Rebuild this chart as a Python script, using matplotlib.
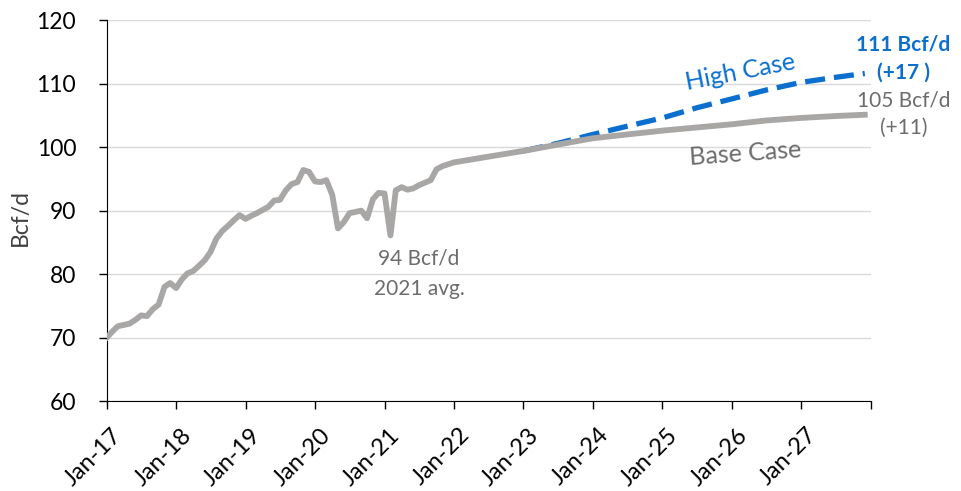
import numpy as np
import pandas as pd
import matplotlib
matplotlib.use('Agg')
import matplotlib.pyplot as plt
import matplotlib.transforms as mtrans

plt.rcParams['font.family'] = ['Lato', 'DejaVu Sans']

# Monthly history, Jan-17 .. Jan-22 (Bcf/d)
hist = [70.0, 71.0, 71.8, 72.0, 72.2, 72.8, 73.5, 73.4, 74.5, 75.2, 78.0, 78.6,
        77.8, 79.2, 80.1, 80.5, 81.3, 82.2, 83.5, 85.6, 86.8, 87.6, 88.5, 89.3,
        88.7, 89.2, 89.6, 90.1, 90.6, 91.6, 91.7, 93.2, 94.2, 94.5, 96.4, 96.1,
        94.6, 94.5, 94.8, 92.5, 87.2, 88.2, 89.6, 89.8, 90.0, 88.8, 91.8, 92.8,
        92.7, 86.1, 93.2, 93.7, 93.3, 93.5, 94.0, 94.4, 94.8, 96.5, 97.0, 97.3,
        97.6]
hist_dates = pd.date_range('2017-01-01', periods=len(hist), freq='MS')

# Forecast, semiannual
fc_dates = pd.to_datetime(['2022-07-01', '2023-01-01', '2023-07-01', '2024-01-01',
                           '2024-07-01', '2025-01-01', '2025-07-01', '2026-01-01',
                           '2026-07-01', '2027-01-01', '2027-07-01', '2027-12-01'])
base_fc = [98.5, 99.4, 100.4, 101.4, 102.0, 102.6, 103.1, 103.6, 104.2, 104.6, 104.9, 105.1]
high_fc = [None, 99.4, 100.6, 102.0, 103.3, 104.6, 106.2, 107.6, 109.0, 110.2, 111.0, 111.6]

base_dates = hist_dates.append(fc_dates)
base_vals = hist + base_fc
high_dates = fc_dates[1:]
high_vals = high_fc[1:]

tick_years = list(range(2017, 2029))
tick_labels = ['Jan-%02d' % (y % 100) for y in tick_years[:-1]] + ['']

gray = '#A9A6A6'
blue = '#0A6FCF'
text_gray = '#6E6B6B'

fig = plt.figure(figsize=(9.61, 4.91), dpi=100)
ax = fig.add_axes([0.111, 0.183, 0.795, 0.776])

ax.plot(high_dates, high_vals, color=blue, lw=3.8, dashes=(3.8, 1.7),
        solid_capstyle='butt', zorder=3)
ax.plot(base_dates, base_vals, color=gray, lw=4.2, solid_joinstyle='round', zorder=4)

ax.set_xlim(pd.Timestamp('2017-01-01'), pd.Timestamp('2028-01-01'))
ax.set_ylim(60, 120)
ax.set_yticks(range(60, 121, 10))
ax.set_xticks([pd.Timestamp('%d-01-01' % y) for y in tick_years])
ax.set_xticklabels(tick_labels, rotation=45, ha='right', va='center',
                   rotation_mode='anchor')
ax.tick_params(axis='x', length=6, width=1, labelsize=17, pad=16)
ax.tick_params(axis='y', length=6, width=1, labelsize=16.5, pad=16)
# nudge the slanted labels so their top end sits just right of the tick
shift = mtrans.ScaledTranslation(12 / 100, 0, fig.dpi_scale_trans)
for lab in ax.get_xticklabels():
    lab.set_transform(lab.get_transform() + shift)
ax.grid(axis='y', color='#D9D9D9', lw=1)
ax.set_axisbelow(True)
for s in ['top', 'right']:
    ax.spines[s].set_visible(False)
ax.spines['left'].set_color('black')
ax.spines['bottom'].set_color('black')
ax.set_ylabel('Bcf/d', fontsize=16.5, color='#404040')
ax.yaxis.set_label_coords(-0.099, 0.483)

ax.text(pd.Timestamp('2026-02-15'), 111.8, 'High Case', color=blue, fontsize=18,
        rotation=11, ha='center', va='center')
ax.text(pd.Timestamp('2026-03-15'), 99.0, 'Base Case', color=text_gray, fontsize=18,
        rotation=4, ha='center', va='center')
ax.text(pd.Timestamp('2021-07-01'), 82.5, '94 Bcf/d', color=text_gray, fontsize=15,
        ha='center', va='center')
ax.text(pd.Timestamp('2021-07-01'), 77.6, '2021 avg.', color=text_gray, fontsize=15,
        ha='center', va='center')
ax.text(pd.Timestamp('2028-06-20'), 116.1, '111 Bcf/d', color=blue, fontsize=15,
        fontweight='bold', ha='center', va='center', clip_on=False)
ax.text(pd.Timestamp('2028-06-20'), 111.8, '(+17 )', color=blue, fontsize=15,
        fontweight='bold', ha='center', va='center', clip_on=False)
ax.text(pd.Timestamp('2028-06-25'), 107.4, '105 Bcf/d', color=text_gray, fontsize=15,
        ha='center', va='center', clip_on=False)
ax.text(pd.Timestamp('2028-06-25'), 103.1, '(+11)', color=text_gray, fontsize=15,
        ha='center', va='center', clip_on=False)

fig.savefig('out.png', dpi=100)
